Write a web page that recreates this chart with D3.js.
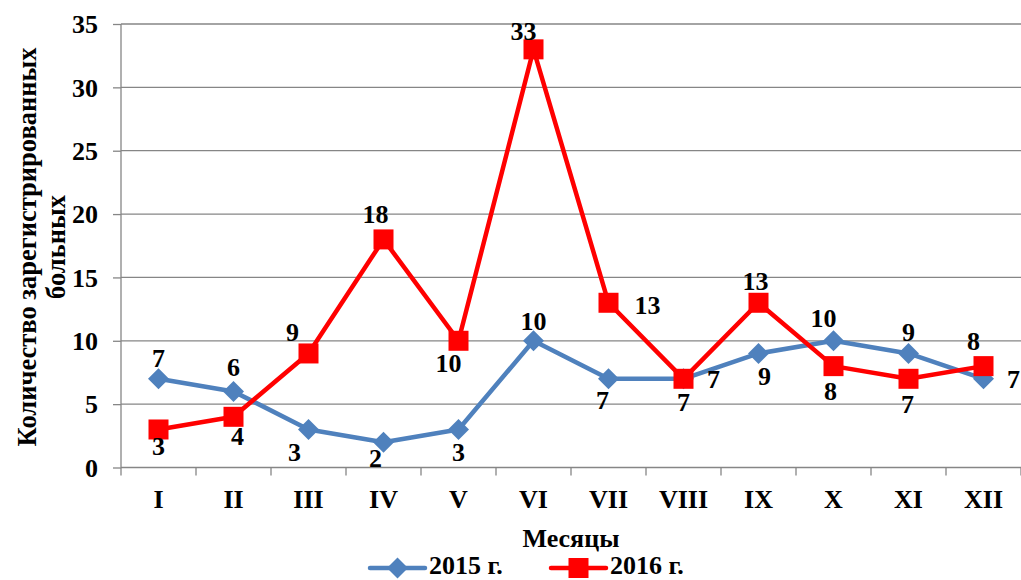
<!DOCTYPE html>
<html>
<head>
<meta charset="utf-8">
<script src="https://cdn.jsdelivr.net/npm/d3@7"></script>
<style>
  html, body { margin: 0; padding: 0; background: #fff; }
  svg { display: block; }
</style>
</head>
<body>
<svg id="chart" width="1021" height="580"></svg>
<script>
// Monthly registered cases, Roman-numeral months
const months = ["I", "II", "III", "IV", "V", "VI", "VII", "VIII", "IX", "X", "XI", "XII"];
const cases2015 = [7, 6, 3, 2, 3, 10, 7, 7, 9, 10, 9, 7];
const cases2016 = [3, 4, 9, 18, 10, 33, 13, 7, 13, 8, 7, 8];
const yTicks = [0, 5, 10, 15, 20, 25, 30, 35];
const seriesNames = ["2015 г.", "2016 г."];

// Value-label nudges (dx, dy) relative to each marker
const labelNudge2015 = [[0,-21],[0,-24],[-14,23],[-8,16],[0,23],[0,-20],[-6,21],[30,0],[6,23],[-10,-23],[0,-21],[30,0]];
const labelNudge2016 = [[0,17],[4,19],[-16,-21],[-8,-25],[-10,22],[-10,-18],[39,2],[0,23],[-3,-22],[-3,25],[-1,25],[-10,-25]];

const svg = d3.select("#chart");
const plot = { left: 121, right: 1021, top: 24, bottom: 467.5 };
const gridColor = "#868686";
const blue = "#4F81BD", red = "#FF0000";
const fs = 26;
const serif = "'Liberation Serif', 'Times New Roman', Times, serif";

const x = d3.scaleBand().domain(months).range([plot.left, plot.right]).paddingInner(0).paddingOuter(0);
const y = d3.scaleLinear().domain([0, 35]).range([plot.bottom, plot.top]);
const cx = m => x(m) + x.bandwidth() / 2;

// Horizontal gridlines
svg.append("g").selectAll("line").data(yTicks.filter(t => t > 0)).join("line")
  .attr("x1", plot.left).attr("x2", plot.right)
  .attr("y1", d => y(d)).attr("y2", d => y(d))
  .attr("stroke", gridColor).attr("stroke-width", 1.3);

// Y axis
const yAxis = svg.append("g").attr("transform", `translate(${plot.left},0)`)
  .call(d3.axisLeft(y).tickValues(yTicks).tickSize(8).tickPadding(15));
yAxis.select(".domain").attr("stroke", gridColor).attr("stroke-width", 1.3).attr("d", `M0,${plot.top}V${plot.bottom}`);
yAxis.selectAll(".tick line").attr("stroke", gridColor).attr("stroke-width", 1.3);
yAxis.selectAll(".tick text").attr("font-size", fs).attr("dy", "0.34em");

// X axis with boundary ticks between months
const xAxis = svg.append("g").attr("transform", `translate(0,${plot.bottom})`)
  .call(d3.axisBottom(x).tickSize(0).tickPadding(40));
xAxis.select(".domain").attr("stroke", gridColor).attr("stroke-width", 1.3).attr("d", `M${plot.left},0H${plot.right}`);
xAxis.selectAll(".tick text").attr("font-size", fs).attr("dy", 0).attr("y", 40.5);
xAxis.append("g").selectAll("line").data(months.concat(["end"])).join("line")
  .attr("x1", (d, i) => plot.left + i * x.bandwidth()).attr("x2", (d, i) => plot.left + i * x.bandwidth())
  .attr("y1", 0).attr("y2", 8).attr("stroke", gridColor).attr("stroke-width", 1.3);

// Axis titles
svg.append("text").attr("x", (plot.left + plot.right) / 2).attr("y", 547)
  .attr("text-anchor", "middle").attr("font-size", fs).text("Месяцы");
const yTitle = svg.append("text").attr("transform", "translate(36,247) rotate(-90)")
  .attr("text-anchor", "middle").attr("font-size", 26.5);
yTitle.append("tspan").attr("x", 0).attr("y", 0).text("Количество зарегистрированных");
yTitle.append("tspan").attr("x", 0).attr("y", 29).text("больных");

// Marker shapes
const diamond = (g, px, py, r, color) => g.append("path")
  .attr("d", `M${px},${py - r}L${px + r},${py}L${px},${py + r}L${px - r},${py}Z`).attr("fill", color);
const square = (g, px, py, s, color) => g.append("rect")
  .attr("x", px - s / 2).attr("y", py - s / 2).attr("width", s).attr("height", s).attr("fill", color);

const line = d3.line().x((d, i) => cx(months[i])).y(d => y(d));

function drawSeries(values, color, marker) {
  const g = svg.append("g");
  g.append("path").datum(values).attr("d", line).attr("fill", "none")
    .attr("stroke", color).attr("stroke-width", 4.5).attr("stroke-linejoin", "round");
  values.forEach((v, i) => {
    if (marker === "diamond") diamond(g, cx(months[i]), y(v), 10.5, color);
    else square(g, cx(months[i]), y(v), 20, color);
  });
}

function drawLabels(values, nudges) {
  svg.append("g").selectAll("text").data(values).join("text")
    .attr("x", (d, i) => cx(months[i]) + nudges[i][0])
    .attr("y", (d, i) => y(d) + nudges[i][1])
    .attr("dy", "0.34em").attr("text-anchor", "middle").attr("font-size", fs)
    .text(d => d);
}

drawSeries(cases2015, blue, "diamond");
drawSeries(cases2016, red, "square");
drawLabels(cases2015, labelNudge2015);
drawLabels(cases2016, labelNudge2016);

// Legend
const legend = svg.append("g");
const legendItems = [
  { name: seriesNames[0], color: blue, marker: "diamond", x0: 370 },
  { name: seriesNames[1], color: red, marker: "square", x0: 551 }
];
const ly = 568;
legendItems.forEach(it => {
  legend.append("line").attr("x1", it.x0).attr("x2", it.x0 + 55).attr("y1", ly).attr("y2", ly)
    .attr("stroke", it.color).attr("stroke-width", 4.5).attr("stroke-linecap", "round");
  if (it.marker === "diamond") diamond(legend, it.x0 + 27.5, ly, 10.5, it.color);
  else square(legend, it.x0 + 27.5, ly, 20, it.color);
  legend.append("text").attr("x", it.x0 + 59).attr("y", 574).attr("font-size", fs).text(it.name);
});

// All chart text: bold Times-metric serif, black
svg.selectAll("text")
  .style("font-family", serif).style("font-weight", "bold").style("fill", "#000");
</script>
</body>
</html>
